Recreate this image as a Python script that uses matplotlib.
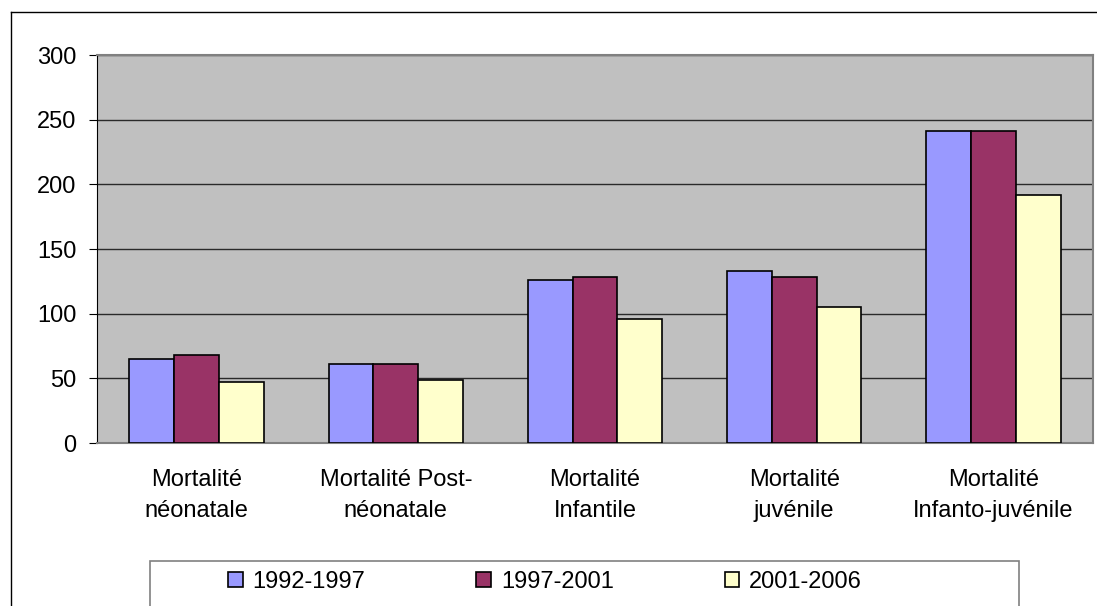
import matplotlib
matplotlib.use('Agg')
import matplotlib.pyplot as plt
import numpy as np
from matplotlib.lines import Line2D
from matplotlib.patches import Rectangle

categories = ['Mortalité\nnéonatale', 'Mortalité Post-\nnéonatale', 'Mortalité\nInfantile',
              'Mortalité\njuvénile', 'Mortalité\nInfanto-juvénile']
series = ['1992-1997', '1997-2001', '2001-2006']
v_1992 = [65, 61, 126, 133, 241]
v_1997 = [68, 61, 128, 128, 241]
v_2001 = [47, 49, 96, 105, 192]
colors = ['#9999FF', '#993366', '#FFFFCC']
yticks = [0, 50, 100, 150, 200, 250, 300]

plt.rcParams['font.family'] = ['Liberation Sans', 'DejaVu Sans']
fs = 17

fig = plt.figure(figsize=(10.97, 6.06), dpi=100)
W, H = 1097., 606.
ax = fig.add_axes([97/W, 1-443/H, (1093-97)/W, (443-55)/H])
ax.set_facecolor('#C0C0C0')

x = np.arange(len(categories))
bw = 0.225
for i, (vals, c, lab) in enumerate(zip([v_1992, v_1997, v_2001], colors, series)):
    ax.bar(x + (i-1)*bw, vals, bw, color=c, edgecolor='black', linewidth=1.2,
           label=lab, zorder=3)

ax.set_xlim(-0.5, len(categories)-0.5)
ax.set_ylim(0, 300)
ax.set_yticks(yticks)
ax.set_xticks(x)
ax.set_xticklabels(categories, fontsize=fs, linespacing=1.5)
ax.tick_params(axis='x', length=0, pad=19)
ax.tick_params(axis='y', labelsize=fs, direction='out', length=5.8, width=0.8, pad=9)
ax.yaxis.grid(True, color='#2a2a2a', linewidth=1.0, zorder=1)
ax.set_axisbelow(True)
for s in ['top', 'right', 'bottom']:
    ax.spines[s].set_color('#808080')
    ax.spines[s].set_linewidth(1.5)
ax.spines['left'].set_color('black')
ax.spines['left'].set_linewidth(0.8)

# outer chart frame (cropped at right and bottom)
fig.add_artist(Line2D([11/W, 11/W], [0, 1-12/H], color='black', linewidth=1.0))
fig.add_artist(Line2D([11/W, 1], [1-12/H, 1-12/H], color='black', linewidth=1.0))

# legend box
fig.add_artist(Rectangle((150/W, -0.05), (1019-150)/W, 0.05+1-561/H,
                         transform=fig.transFigure, facecolor='white',
                         edgecolor='#808080', linewidth=1.2))
fig.legend(loc='center left', bbox_to_anchor=(228/W, 1-582/H), ncol=3, frameon=False,
           fontsize=fs, handlelength=0.62, handleheight=0.62, handletextpad=0.42,
           columnspacing=4.7, borderaxespad=0, borderpad=0)

fig.savefig('out.png', dpi=100)
